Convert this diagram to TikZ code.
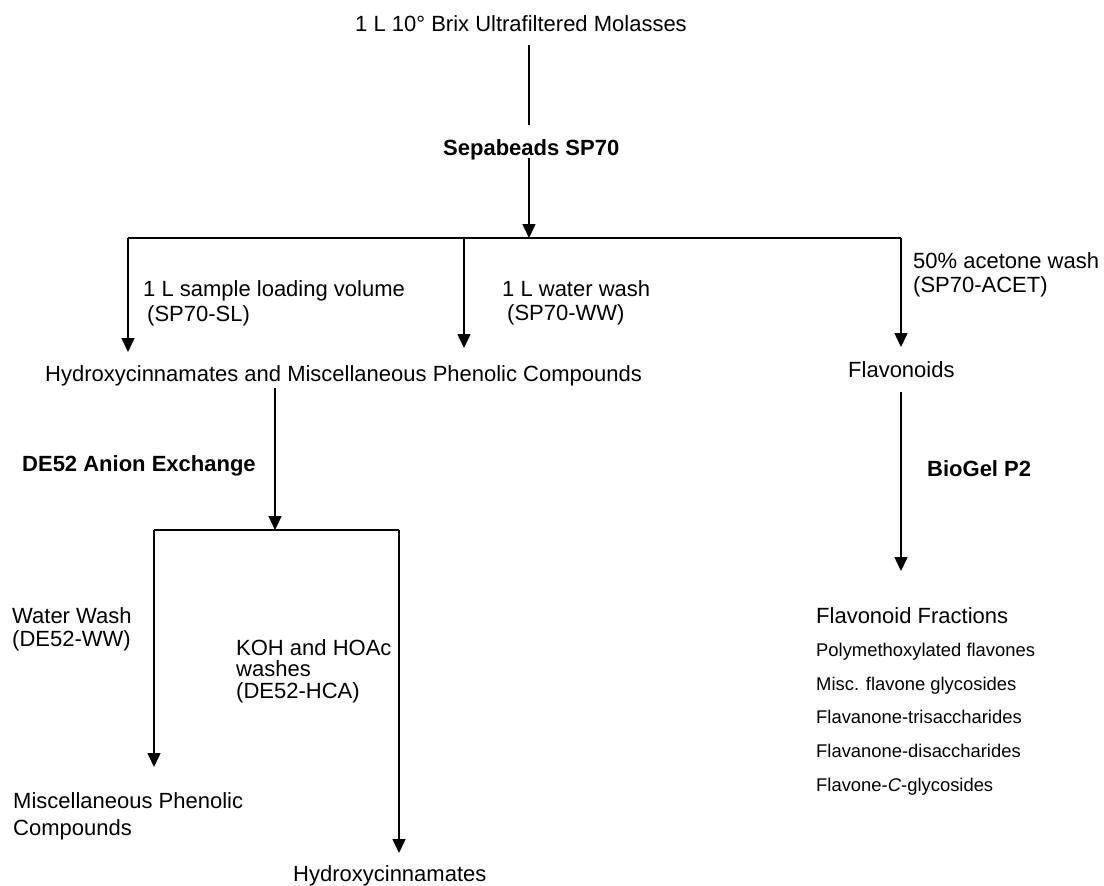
\documentclass[tikz,border=0pt]{standalone}
\usepackage{fontspec}
\setmainfont{Liberation Sans}
\usetikzlibrary{arrows.meta}
\begin{document}
\begin{tikzpicture}[x=1pt,y=-1pt,
  lbl/.style={inner sep=0pt,anchor=base west,font=\fontsize{22}{24}\selectfont},
  blbl/.style={lbl,font=\fontsize{22}{24}\selectfont\bfseries},
  slbl/.style={lbl,font=\fontsize{18.4}{20}\selectfont},
  conn/.style={line width=1.5pt,draw=black},
  arr/.style={conn,-{Triangle[width=13pt,length=14pt]}}]
\fill[white] (0,0) rectangle (1104,886);
\useasboundingbox (0,0) rectangle (1104,886);

% top
\node[lbl,anchor=base] (src) at (521,31.5) {1 L 10° Brix Ultrafiltered Molasses};
\node[blbl] (sp70) at (443,155) {Sepabeads SP70};
\coordinate (a1) at (529,45);
\coordinate (a2) at (529,125);
\coordinate (a3) at (529,158);
\coordinate (j1) at (529,238);
\coordinate (jl) at (128,238);
\coordinate (jm) at (464,238);
\coordinate (jr) at (901,238);
\coordinate (el) at (128,352);
\coordinate (em) at (464,348);
\coordinate (er) at (901,347);
\draw[conn] (a1) -- (a2);
\draw[arr] (a3) -- (j1);
\draw[conn] (jl) -- (jr);
\draw[arr] (jl) -- (el);
\draw[arr] (jm) -- (em);
\draw[arr] (jr) -- (er);

\node[lbl] (sl1) at (143,296) {1 L sample loading volume};
\node[lbl] (sl2) at (147,321) {(SP70-SL)};
\node[lbl] (ww1) at (502,296) {1 L water wash};
\node[lbl] (ww2) at (507,320) {(SP70-WW)};
\node[lbl] (ac1) at (913,268) {50\% acetone wash};
\node[lbl] (ac2) at (913,292) {(SP70-ACET)};

\node[lbl] (hmp) at (45,381) {Hydroxycinnamates and Miscellaneous Phenolic Compounds};
\node[lbl] (flav) at (848,377) {Flavonoids};

% DE52 branch
\node[blbl] (de52) at (22,471) {DE52 Anion Exchange};
\coordinate (b1) at (275,388);
\coordinate (j2) at (275,530);
\coordinate (j2l) at (154,530);
\coordinate (j2r) at (399,530);
\coordinate (e2l) at (154,767);
\coordinate (e2r) at (399,853);
\draw[arr] (b1) -- (j2);
\draw[conn] (j2l) -- (j2r);
\draw[arr] (j2l) -- (e2l);
\draw[arr] (j2r) -- (e2r);

\node[lbl] (dw1) at (12,623) {Water Wash};
\node[lbl] (dw2) at (12,646) {(DE52-WW)};
\node[lbl] (k1) at (236,655) {KOH and HOAc};
\node[lbl] (k2) at (236,676) {washes};
\node[lbl] (k3) at (236,698) {(DE52-HCA)};
\node[lbl] (mp1) at (13,808) {Miscellaneous Phenolic};
\node[lbl] (mp2) at (13,835) {Compounds};
\node[lbl] (hc) at (293,881) {Hydroxycinnamates};

% BioGel branch
\coordinate (c1) at (901,392);
\coordinate (c2) at (901,571);
\draw[arr] (c1) -- (c2);
\node[blbl] (bg) at (927,476) {BioGel P2};
\node[lbl] (ff) at (816,623) {Flavonoid Fractions};
\node[slbl] (f1) at (816,656.6) {Polymethoxylated flavones};
\node[slbl] (f2) at (816,690.6) {Misc. flavone glycosides};
\node[slbl] (f3) at (816,723.6) {Flavanone-trisaccharides};
\node[slbl] (f4) at (816,757.6) {Flavanone-disaccharides};
\node[slbl] (f5) at (816,791.6) {Flavone-\textit{C}-glycosides};
\end{tikzpicture}
\end{document}
